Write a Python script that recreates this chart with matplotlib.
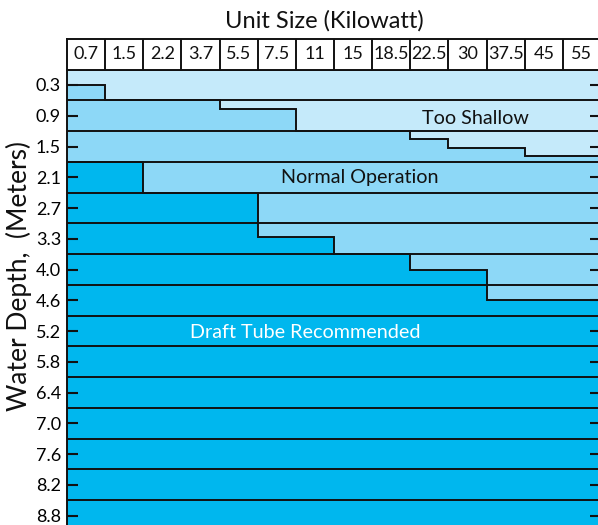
import matplotlib
matplotlib.use("Agg")
import matplotlib.pyplot as plt
import numpy as np

# ---- data ----
unit_sizes = ["0.7", "1.5", "2.2", "3.7", "5.5", "7.5", "11", "15", "18.5",
              "22.5", "30", "37.5", "45", "55"]
depth_labels = ["0.3", "0.9", "1.5", "2.1", "2.7", "3.3", "4.0", "4.6", "5.2",
                "5.8", "6.4", "7.0", "7.6", "8.2", "8.8"]
# minimum depth (m) for normal operation (above: too shallow)
shallow_limit = [0.3, 0.6, 0.6, 0.6, 0.77, 0.77, 1.2, 1.2, 1.2, 1.36, 1.52, 1.52, 1.69, 1.69]
# depth (m) beyond which a draft tube is recommended
draft_limit = [1.8, 1.8, 2.4, 2.4, 2.4, 3.27, 3.27, 3.6, 3.6, 3.9, 3.9, 4.5, 4.5, 4.5]
row_step = 0.6
n_rows = len(depth_labels)

# ---- style ----
FONT = ["Lato", "DejaVu Sans"]
plt.rcParams["font.family"] = FONT
c_shallow = "#C5EAFA"
c_normal = "#8DD8F7"
c_draft = "#00B7EE"
lc = "#111111"
lw = 1.4

W, H = 598, 525
fig = plt.figure(figsize=(W / 100, H / 100), dpi=100)

x0, x1 = 67, 601
y_top, y_bot = 69.6, 531.0
hdr_top = 39.3

ax = fig.add_axes([x0 / W, 1 - y_bot / H, (x1 - x0) / W, (y_bot - y_top) / H])
hx = fig.add_axes([x0 / W, 1 - y_top / H, (x1 - x0) / W, (y_top - hdr_top) / H])

ncol = len(unit_sizes)
edges = np.arange(ncol + 1)
ax.set_xlim(0, ncol)
ax.set_ylim(n_rows * row_step, 0)
ax.set_facecolor(c_draft)

ax.stairs(shallow_limit, edges, baseline=0, fill=True, color=c_shallow, zorder=1)
ax.stairs(draft_limit, edges, baseline=shallow_limit, fill=True, color=c_normal, zorder=1)

for k in range(1, n_rows):
    ax.axhline(k * row_step, color=lc, lw=lw, zorder=2)

ax.stairs(shallow_limit, edges, baseline=None, color=lc, lw=lw, zorder=3)
ax.stairs(draft_limit, edges, baseline=None, color=lc, lw=lw, zorder=3)

ticks = [row_step / 2 + row_step * i for i in range(n_rows)]
ax.set_yticks(ticks)
ax.set_yticklabels(depth_labels)
ax.set_xticks([])
ax.tick_params(axis="y", direction="in", length=8, width=1.5, color=lc,
               left=True, right=True, labelleft=True, pad=4.3, labelsize=13)
for s in ax.spines.values():
    s.set_color(lc)
    s.set_linewidth(lw)

ax.text(10.72, 0.945, "Too Shallow", ha="center", va="center", fontsize=14.2, color="#111111", zorder=4)
ax.text(7.68, 2.11, "Normal Operation", ha="center", va="center", fontsize=14.2, color="#111111", zorder=4)
ax.text(6.24, 5.12, "Draft Tube Recommended", ha="center", va="center", fontsize=14.2, color="white", zorder=4)

# header
hx.set_xlim(0, ncol)
hx.set_ylim(0, 1)
hx.set_xticks([])
hx.set_yticks([])
hx.set_facecolor("white")
for s in hx.spines.values():
    s.set_color(lc)
    s.set_linewidth(lw)
for i in range(1, ncol):
    hx.axvline(i, color=lc, lw=lw)
for i, lab in enumerate(unit_sizes):
    hx.text(i + 0.5, 0.5, lab, ha="center", va="center", fontsize=13, color="#111111")

fig.text(324 / W, 1 - 21 / H, "Unit Size (Kilowatt)", ha="center", va="center", fontsize=17, color="#111111")
fig.text(19 / W, 1 - 276 / H, "Water Depth,  (Meters)", ha="center", va="center",
         rotation=90, fontsize=19, color="#111111")

fig.savefig("out.png", dpi=100)
